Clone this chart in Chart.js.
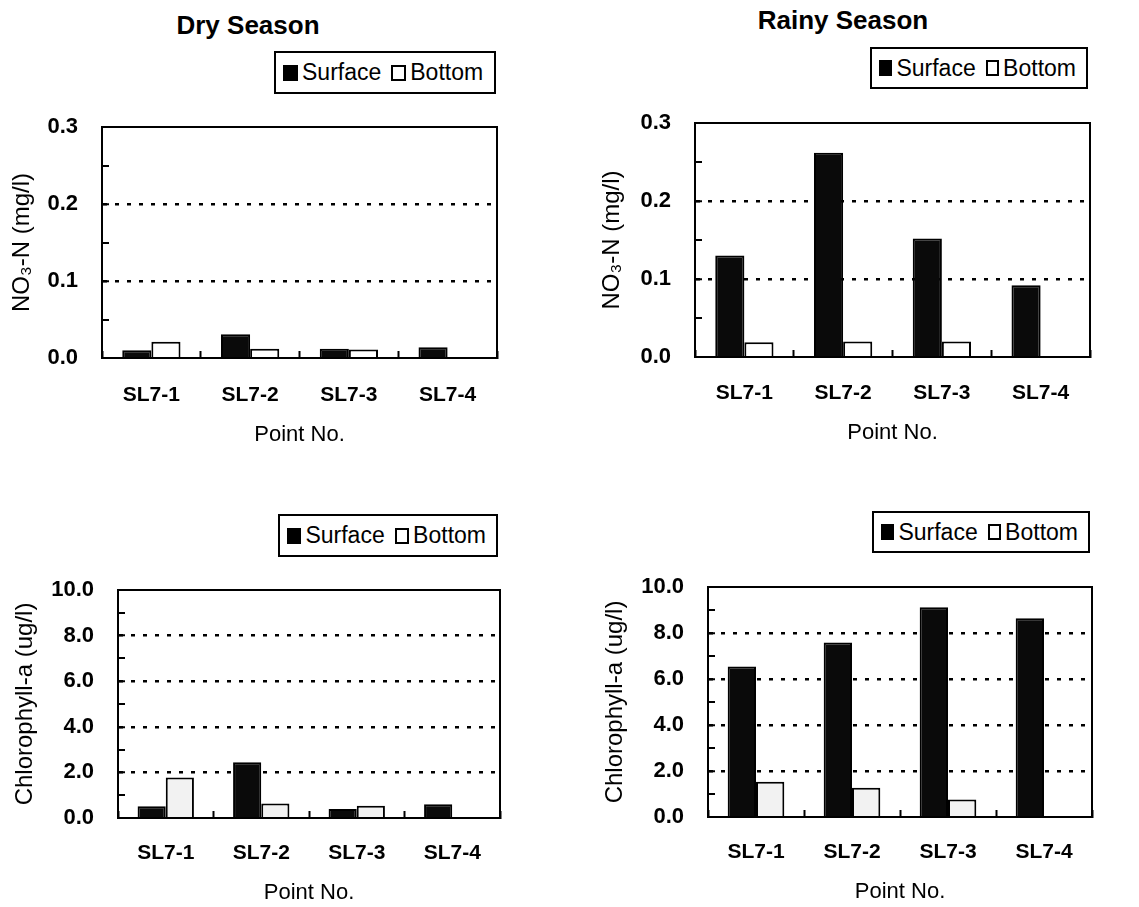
<!DOCTYPE html>
<html lang="en">
<head>
<meta charset="utf-8">
<title>NO3-N and Chlorophyll-a, Dry / Rainy Season</title>
<script src="https://cdn.jsdelivr.net/npm/chart.js@4.4.1/dist/chart.umd.min.js"></script>
<style>
  body { margin: 0; background: #fff; width: 1139px; height: 907px; position: relative; overflow: hidden; font-family: 'Liberation Sans', Arial, sans-serif; color: #000 }
  canvas { position: absolute }
  .titulo { position: absolute; font-weight: bold; font-size: 26px; line-height: 1; transform: translateX(-50%); white-space: nowrap }
  .legenda { position: absolute; box-sizing: border-box; border: 2px solid #000; display: flex; align-items: center; padding-left: 7px; font-size: 23px; white-space: nowrap }
  .legenda .cor { width: 15px; height: 16px; box-sizing: border-box; border: 2px solid #000; margin-right: 4px }
  .legenda .nome { margin-right: 10px }
</style>
</head>
<body>
<script>
const pontos = ['SL7-1', 'SL7-2', 'SL7-3', 'SL7-4']
const series = ['Surface', 'Bottom']
const titulos = ['Dry Season', 'Rainy Season']
const titulosEixoY = ['NO\u2083-N (mg/l)', 'Chlorophyll-a (ug/l)']
const tituloEixoX = 'Point No.'

const no3SecaSuperficie = [0.01, 0.031, 0.012, 0.014]
const no3SecaFundo = [0.021, 0.012, 0.011, 0]
const no3ChuvaSuperficie = [0.13, 0.262, 0.152, 0.092]
const no3ChuvaFundo = [0.019, 0.02, 0.02, 0]
const clorofilaSecaSuperficie = [0.51, 2.44, 0.39, 0.6]
const clorofilaSecaFundo = [1.78, 0.64, 0.54, 0]
const clorofilaChuvaSuperficie = [6.54, 7.59, 9.12, 8.64]
const clorofilaChuvaFundo = [1.53, 1.27, 0.76, 0]

const marcasNO3 = [0, 0.05, 0.1, 0.15, 0.2, 0.25, 0.3]
const rotulosNO3 = [0, 0.1, 0.2, 0.3]
const marcasClorofila = [0, 1, 2, 3, 4, 5, 6, 7, 8, 9, 10]
const rotulosClorofila = [0, 2, 4, 6, 8, 10]

// posicao de cada painel na pagina e da area do grafico dentro dele
const paineis = [
  { x: 0, y: 0, w: 570, h: 450, area: [102, 127, 497, 358], eixoY: 22, rotuloX: 37, tituloX: 77, legenda: [274, 51, 222, 43] },
  { x: 570, y: 0, w: 569, h: 450, area: [125, 123, 520, 357], eixoY: 42, rotuloX: 36, tituloX: 76, legenda: [300, 47, 218, 42] },
  { x: 0, y: 450, w: 570, h: 457, area: [118, 140, 500, 368], eixoY: 25, rotuloX: 35, tituloX: 75, legenda: [278, 64, 220, 43] },
  { x: 570, y: 450, w: 569, h: 457, area: [138, 137, 522, 367], eixoY: 45, rotuloX: 35, tituloX: 75, legenda: [302, 61, 218, 42] }
]

const fonte = "'Liberation Sans', Arial, sans-serif"
Chart.defaults.color = '#000'
Chart.defaults.font.family = fonte

const moldura = {
  id: 'moldura',
  afterDatasetsDraw: function(chart) {
    const a = chart.chartArea
    const ctx = chart.ctx
    ctx.save()
    ctx.strokeStyle = '#000'
    ctx.lineWidth = 2
    ctx.strokeRect(a.left, a.top, a.right - a.left, a.bottom - a.top)
    ctx.restore()
  }
}

function ehRotulo(valor, rotulos) {
  return rotulos.some(function(r) { return Math.abs(r - valor) < 1e-9 })
}

function criarLegenda(painel) {
  const caixa = document.createElement('div')
  caixa.className = 'legenda'
  caixa.style.left = (painel.x + painel.legenda[0]) + 'px'
  caixa.style.top = (painel.y + painel.legenda[1]) + 'px'
  caixa.style.width = painel.legenda[2] + 'px'
  caixa.style.height = painel.legenda[3] + 'px'
  const cores = ['#000', '#fff']
  series.forEach(function(nome, i) {
    caixa.innerHTML += `<span class="cor" style="background:${cores[i]}"></span><span class="nome">${nome}</span>`
  })
  document.body.appendChild(caixa)
}

function criarTitulo(texto, x, y) {
  const div = document.createElement('div')
  div.className = 'titulo'
  div.style.left = x + 'px'
  div.style.top = y + 'px'
  div.textContent = texto
  document.body.appendChild(div)
}

function criarGrafico(painel, superficie, fundo, corFundo, marcas, rotulos, tituloY) {
  const canvas = document.createElement('canvas')
  canvas.width = painel.w
  canvas.height = painel.h
  canvas.style.left = painel.x + 'px'
  canvas.style.top = painel.y + 'px'
  document.body.appendChild(canvas)

  const esq = painel.area[0], topo = painel.area[1], dir = painel.area[2], base = painel.area[3]
  const meiaLinhaX = 22 * 1.2 / 2
  const meiaLinhaY = 24 * 1.2 / 2
  const padEsq = painel.eixoY - meiaLinhaY

  return new Chart(canvas, {
    type: 'bar',
    data: {
      labels: pontos,
      datasets: [
        { label: series[0], data: superficie, backgroundColor: '#0a0a0a' },
        { label: series[1], data: fundo, backgroundColor: corFundo }
      ]
    },
    options: {
      responsive: false,
      animation: false,
      events: [],
      layout: { padding: { left: padEsq, top: topo, right: painel.w - dir, bottom: 0 } },
      datasets: { bar: { borderColor: '#000', borderWidth: 2, categoryPercentage: 0.59, barPercentage: 1 } },
      plugins: { legend: { display: false }, tooltip: { enabled: false } },
      scales: {
        x: {
          afterFit: function(escala) { escala.height = painel.h - base },
          grid: { offset: true, drawOnChartArea: false, tickLength: -7, tickColor: '#000', tickWidth: 2 },
          border: { display: true, color: '#000', width: 2 },
          ticks: { autoSkip: false, maxRotation: 0, padding: painel.rotuloX - 21 * 1.2 / 2 + 7, font: { size: 21, weight: 'bold' } },
          title: {
            display: true, text: tituloEixoX,
            padding: { top: 0, bottom: (painel.h - base - painel.tituloX) - meiaLinhaX },
            font: { size: 22 }
          }
        },
        y: {
          min: marcas[0],
          max: marcas[marcas.length - 1],
          afterFit: function(escala) { escala.width = esq - padEsq },
          afterBuildTicks: function(escala) {
            escala.ticks = marcas.map(function(v) { return { value: v } })
          },
          grid: {
            color: '#000',
            lineWidth: function(ctx) {
              const v = ctx.tick ? ctx.tick.value : 0
              if (v === marcas[0] || v === marcas[marcas.length - 1]) return 0
              return ehRotulo(v, rotulos) ? 2.5 : 0
            },
            tickLength: -7, tickColor: '#000', tickWidth: 2
          },
          border: { display: true, color: '#000', width: 2, dash: [4, 8] },
          ticks: {
            autoSkip: false,
            padding: 24 + 7,
            font: { size: 22, weight: 'bold' },
            callback: function(valor) { return ehRotulo(valor, rotulos) ? valor.toFixed(1) : '' }
          },
          title: { display: true, text: tituloY, padding: 0, font: { size: 24 } }
        }
      }
    },
    plugins: [moldura]
  })
}

criarTitulo(titulos[0], 248, 12)
criarTitulo(titulos[1], 843, 7)
paineis.forEach(criarLegenda)

criarGrafico(paineis[0], no3SecaSuperficie, no3SecaFundo, '#fff', marcasNO3, rotulosNO3, titulosEixoY[0])
criarGrafico(paineis[1], no3ChuvaSuperficie, no3ChuvaFundo, '#fff', marcasNO3, rotulosNO3, titulosEixoY[0])
criarGrafico(paineis[2], clorofilaSecaSuperficie, clorofilaSecaFundo, '#f2f2f2', marcasClorofila, rotulosClorofila, titulosEixoY[1])
criarGrafico(paineis[3], clorofilaChuvaSuperficie, clorofilaChuvaFundo, '#f2f2f2', marcasClorofila, rotulosClorofila, titulosEixoY[1])
</script>
</body>
</html>
